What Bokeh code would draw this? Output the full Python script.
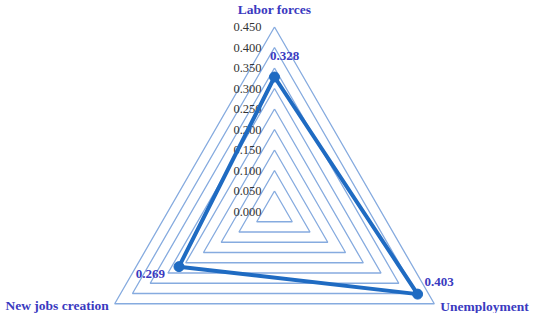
import math
from bokeh.plotting import figure
from bokeh.models import Range1d
from bokeh.core.properties import value
from bokeh.embed import file_html
from bokeh.resources import INLINE

# ---- data ----
categories = ["Labor forces", "Unemployment", "New jobs creation"]
values = [0.328, 0.403, 0.269]
value_labels = ["0.328", "0.403", "0.269"]
ticks = [0.000, 0.050, 0.100, 0.150, 0.200, 0.250, 0.300, 0.350, 0.400, 0.450]
tick_labels = ["0.000", "0.050", "0.100", "0.150", "0.200", "0.250", "0.300", "0.350", "0.400", "0.450"]

# ---- layout ----
angles = [math.radians(a) for a in (90, -30, 210)]
K = 410.0            # pixels per unit value
W, H = 534, 313
CX, CY = 274, 102    # centre in pixels from left / bottom

FONT = value("Liberation Serif")
GRID_COL = "#86ABDF"
LINE_COL = "#1F6BC2"
LABEL_COL = "#3A3ABF"
TICK_COL = "#333333"

p = figure(width=W, height=H, output_backend="svg", toolbar_location=None,
           x_range=Range1d(-CX / K, (W - CX) / K), y_range=Range1d(-CY / K, (H - CY) / K),
           x_axis_location=None, y_axis_location=None, min_border=0)
p.grid.visible = False
p.outline_line_color = None
p.background_fill_color = "white"
p.border_fill_color = "white"

# grid triangles
gx, gy = [], []
for lv in ticks[1:]:
    gx.append([lv * math.cos(a) for a in angles + angles[:1]])
    gy.append([lv * math.sin(a) for a in angles + angles[:1]])
p.multi_line(gx, gy, line_color=GRID_COL, line_width=1.3)

# tick labels
p.text(x=[-13 / K] * len(ticks), y=ticks, text=tick_labels, text_font=FONT,
       text_font_size="12.5px", text_color=TICK_COL, text_align="right", text_baseline="middle")

# data series
dx = [v * math.cos(a) for v, a in zip(values, angles)]
dy = [v * math.sin(a) for v, a in zip(values, angles)]
p.line(dx + dx[:1], dy + dy[:1], line_color=LINE_COL, line_width=4, line_join="round")
p.scatter(dx, dy, size=10, fill_color=LINE_COL, line_color=LINE_COL)

# data labels
v_off = [(10, 21, "center"), (7, 12, "left"), (-14, -7, "right")]
for i in range(3):
    ox, oy, al = v_off[i]
    p.text(x=[dx[i] + ox / K], y=[dy[i] + oy / K], text=[value_labels[i]], text_font=FONT,
           text_font_size="13px", text_font_style="bold", text_color=LABEL_COL,
           text_align=al, text_baseline="middle")

# category labels
rmax = ticks[-1]
c_off = [(0, 18, "center"), (6, -3, "left"), (-6, -2, "right")]
for i in range(3):
    ox, oy, al = c_off[i]
    ax = rmax * math.cos(angles[i])
    ay = rmax * math.sin(angles[i])
    p.text(x=[ax + ox / K], y=[ay + oy / K], text=[categories[i]], text_font=FONT,
           text_font_size="13.5px", text_font_style="bold", text_color=LABEL_COL,
           text_align=al, text_baseline="middle")

open("out.html", "w").write(file_html(p, INLINE))
